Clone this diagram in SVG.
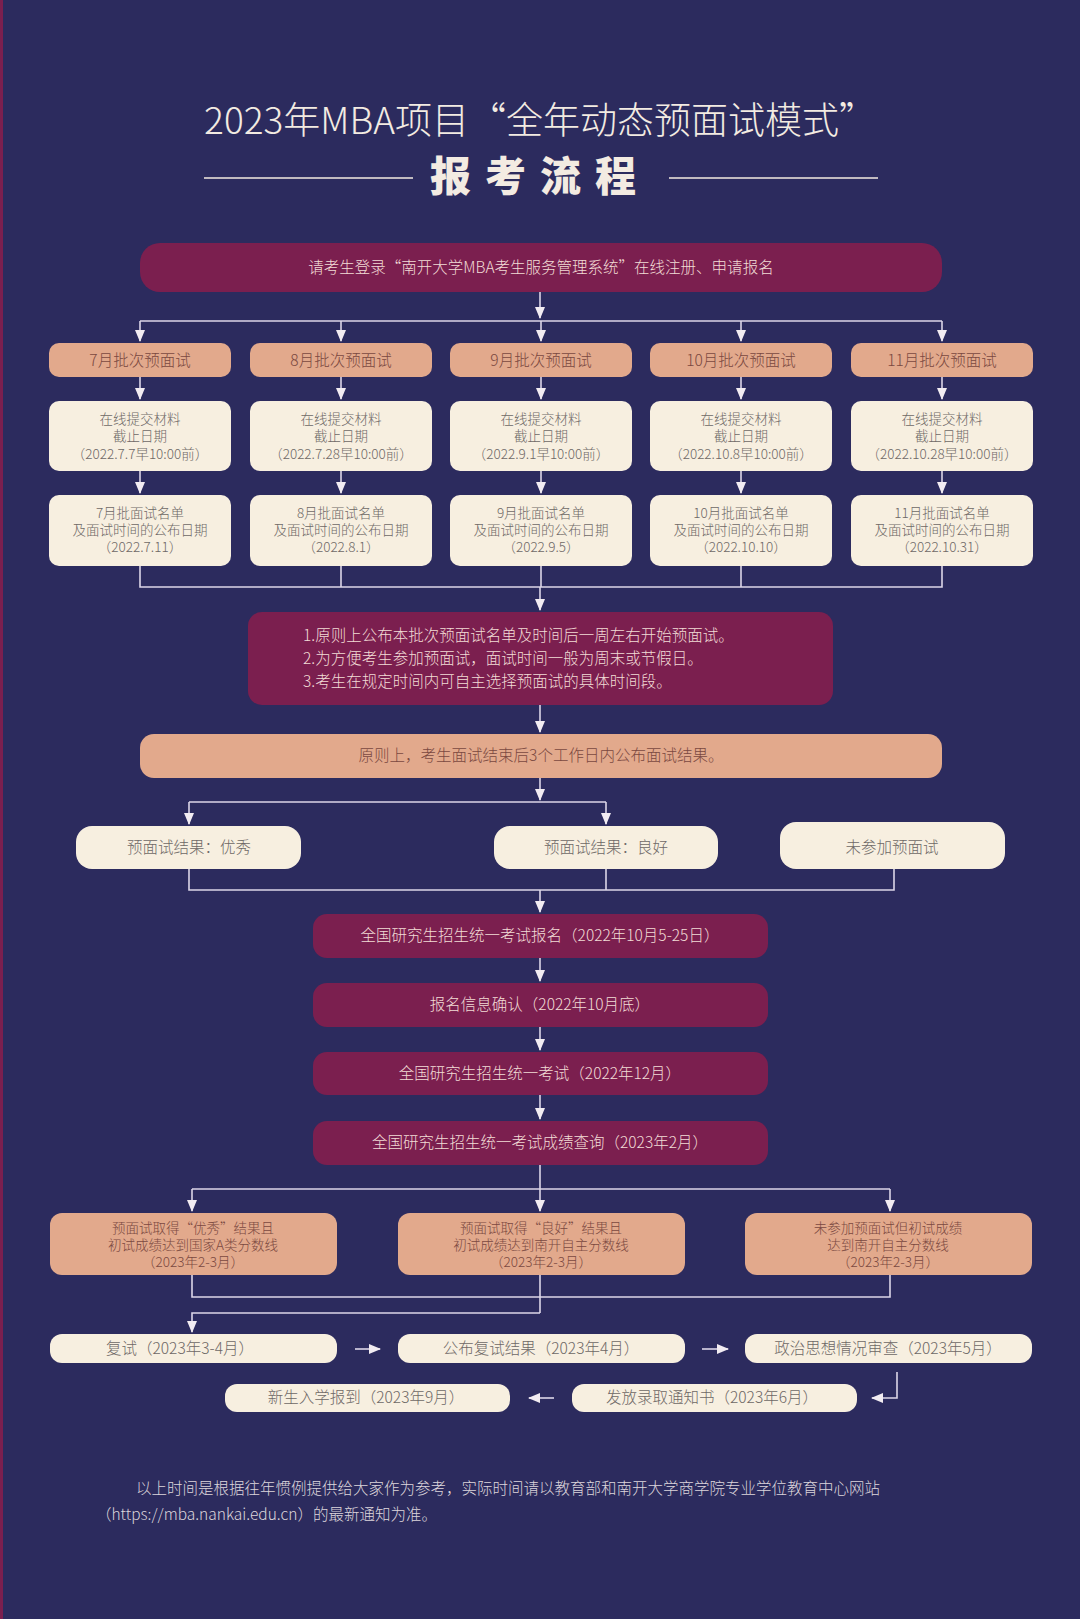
<svg xmlns="http://www.w3.org/2000/svg" width="1080" height="1619" viewBox="0 0 1080 1619">
<defs>
<marker id="ah" markerUnits="userSpaceOnUse" markerWidth="12" markerHeight="10" refX="11" refY="5" orient="auto"><path d="M0,0 L12,5 L0,10 Z" fill="#f2ecf2"/></marker>
<style>
text{font-family:"Noto Sans CJK SC","Noto Sans",sans-serif;text-anchor:middle;font-weight:300}
.c{stroke:#dcd6e8;stroke-width:1.6;fill:none}
.a{marker-end:url(#ah)}
.m rect{fill:#7b1f4f}
.m text{fill:#f2dcd6;font-size:15.5px}
.s rect{fill:#e2a98c}
.s text{fill:#7a4840;font-size:15.5px}
.w rect{fill:#f7efe0}
.w text{fill:#6e6866;font-size:15.5px}
.sm text{font-size:13.5px}
</style>
</defs>
<rect width="1080" height="1619" fill="#2c2b5e"/>
<rect width="3" height="1619" fill="#7b1f4f"/>
<g id="title">
<text x="540" y="134" font-size="37" fill="#f3ebe2">2023年MBA项目“全年动态预面试模式”</text>
<text x="540" y="191" font-size="41" font-weight="900" fill="#f3ebe2" style="font-weight:900" letter-spacing="14">报考流程</text>
<line x1="204" y1="178" x2="413" y2="178" stroke="#f3ebe2" stroke-width="1.5"/>
<line x1="669" y1="178" x2="878" y2="178" stroke="#f3ebe2" stroke-width="1.5"/>
</g>
<g id="connectors">
<path class="c a" d="M540 292 V318"/>
<path class="c" d="M140 321 H942"/>
<path class="c a" d="M140 321 V341"/><path class="c a" d="M341 321 V341"/><path class="c a" d="M541 321 V341"/><path class="c a" d="M741 321 V341"/><path class="c a" d="M942 321 V341"/>
<path class="c a" d="M140 377 V399"/><path class="c a" d="M341 377 V399"/><path class="c a" d="M541 377 V399"/><path class="c a" d="M741 377 V399"/><path class="c a" d="M942 377 V399"/>
<path class="c a" d="M140 471 V493"/><path class="c a" d="M341 471 V493"/><path class="c a" d="M541 471 V493"/><path class="c a" d="M741 471 V493"/><path class="c a" d="M942 471 V493"/>
<path class="c" d="M140 566 V587 H942 V566 M341 566 V587 M541 566 V587 M741 566 V587"/>
<path class="c a" d="M540 587 V610"/>
<path class="c a" d="M540 705 V732"/>
<path class="c a" d="M540 778 V800"/>
<path class="c" d="M189 802 H606"/>
<path class="c a" d="M189 802 V824"/><path class="c a" d="M606 802 V824"/>
<path class="c" d="M189 869 V890 H894 V869 M606 869 V890"/>
<path class="c a" d="M540 890 V912"/>
<path class="c a" d="M540 958 V981"/>
<path class="c a" d="M540 1027 V1050"/>
<path class="c a" d="M540 1095 V1119"/>
<path class="c" d="M192 1189 H890"/>
<path class="c a" d="M540 1165 V1211"/>
<path class="c a" d="M192 1189 V1211"/><path class="c a" d="M890 1189 V1211"/>
<path class="c" d="M192 1275 V1297 H890 V1275 M540 1275 V1313"/>
<path class="c a" d="M540 1313 H192 V1332"/>
<path class="c a" d="M355 1349 H380"/>
<path class="c a" d="M702 1349 H728"/>
<path class="c a" d="M897 1372 V1398 H872"/>
<path class="c a" d="M554 1398 H529"/>
</g>
<g id="n_start" class="m"><rect x="140" y="243" width="802" height="49" rx="20"/><text x="541" y="273">请考生登录“南开大学MBA考生服务管理系统”在线注册、申请报名</text></g>
<g id="b7" class="s"><rect x="49" y="343" width="182" height="34" rx="10"/><text x="140" y="366">7月批次预面试</text></g>
<g id="b8" class="s"><rect x="250" y="343" width="182" height="34" rx="10"/><text x="341" y="366">8月批次预面试</text></g>
<g id="b9" class="s"><rect x="450" y="343" width="182" height="34" rx="10"/><text x="541" y="366">9月批次预面试</text></g>
<g id="b10" class="s"><rect x="650" y="343" width="182" height="34" rx="10"/><text x="741" y="366">10月批次预面试</text></g>
<g id="b11" class="s"><rect x="851" y="343" width="182" height="34" rx="10"/><text x="942" y="366">11月批次预面试</text></g>
<g id="d7" class="w sm"><rect x="49" y="401" width="182" height="70" rx="10"/><text x="140" y="424">在线提交材料</text><text x="140" y="441">截止日期</text><text x="140" y="459">（2022.7.7早10:00前）</text></g>
<g id="d8" class="w sm"><rect x="250" y="401" width="182" height="70" rx="10"/><text x="341" y="424">在线提交材料</text><text x="341" y="441">截止日期</text><text x="341" y="459">（2022.7.28早10:00前）</text></g>
<g id="d9" class="w sm"><rect x="450" y="401" width="182" height="70" rx="10"/><text x="541" y="424">在线提交材料</text><text x="541" y="441">截止日期</text><text x="541" y="459">（2022.9.1早10:00前）</text></g>
<g id="d10" class="w sm"><rect x="650" y="401" width="182" height="70" rx="10"/><text x="741" y="424">在线提交材料</text><text x="741" y="441">截止日期</text><text x="741" y="459">（2022.10.8早10:00前）</text></g>
<g id="d11" class="w sm"><rect x="851" y="401" width="182" height="70" rx="10"/><text x="942" y="424">在线提交材料</text><text x="942" y="441">截止日期</text><text x="942" y="459">（2022.10.28早10:00前）</text></g>
<g id="p7" class="w sm"><rect x="49" y="495" width="182" height="71" rx="10"/><text x="140" y="518">7月批面试名单</text><text x="140" y="535">及面试时间的公布日期</text><text x="140" y="552">（2022.7.11）</text></g>
<g id="p8" class="w sm"><rect x="250" y="495" width="182" height="71" rx="10"/><text x="341" y="518">8月批面试名单</text><text x="341" y="535">及面试时间的公布日期</text><text x="341" y="552">（2022.8.1）</text></g>
<g id="p9" class="w sm"><rect x="450" y="495" width="182" height="71" rx="10"/><text x="541" y="518">9月批面试名单</text><text x="541" y="535">及面试时间的公布日期</text><text x="541" y="552">（2022.9.5）</text></g>
<g id="p10" class="w sm"><rect x="650" y="495" width="182" height="71" rx="10"/><text x="741" y="518">10月批面试名单</text><text x="741" y="535">及面试时间的公布日期</text><text x="741" y="552">（2022.10.10）</text></g>
<g id="p11" class="w sm"><rect x="851" y="495" width="182" height="71" rx="10"/><text x="942" y="518">11月批面试名单</text><text x="942" y="535">及面试时间的公布日期</text><text x="942" y="552">（2022.10.31）</text></g>
<g id="n_rules" class="m"><rect x="248" y="612" width="585" height="93" rx="14"/><text x="303" y="641" style="text-anchor:start">1.原则上公布本批次预面试名单及时间后一周左右开始预面试。</text><text x="303" y="664" style="text-anchor:start">2.为方便考生参加预面试，面试时间一般为周末或节假日。</text><text x="303" y="687" style="text-anchor:start">3.考生在规定时间内可自主选择预面试的具体时间段。</text></g>
<g id="n_result" class="s"><rect x="140" y="734" width="802" height="44" rx="14"/><text x="541" y="761">原则上，考生面试结束后3个工作日内公布面试结果。</text></g>
<g id="r1" class="w"><rect x="76" y="826" width="225" height="43" rx="16"/><text x="189" y="853">预面试结果：优秀</text></g>
<g id="r2" class="w"><rect x="494" y="826" width="224" height="43" rx="16"/><text x="606" y="853">预面试结果：良好</text></g>
<g id="r3" class="w"><rect x="780" y="822" width="225" height="47" rx="16"/><text x="892" y="853">未参加预面试</text></g>
<g id="e1" class="m"><rect x="313" y="914" width="455" height="44" rx="14"/><text x="540" y="941">全国研究生招生统一考试报名（2022年10月5-25日）</text></g>
<g id="e2" class="m"><rect x="313" y="983" width="455" height="44" rx="14"/><text x="540" y="1010">报名信息确认（2022年10月底）</text></g>
<g id="e3" class="m"><rect x="313" y="1052" width="455" height="43" rx="14"/><text x="540" y="1079">全国研究生招生统一考试（2022年12月）</text></g>
<g id="e4" class="m"><rect x="313" y="1121" width="455" height="44" rx="14"/><text x="540" y="1148">全国研究生招生统一考试成绩查询（2023年2月）</text></g>
<g id="q1" class="s sm"><rect x="50" y="1213" width="287" height="62" rx="12"/><text x="193" y="1233">预面试取得“优秀”结果且</text><text x="193" y="1250">初试成绩达到国家A类分数线</text><text x="193" y="1267">（2023年2-3月）</text></g>
<g id="q2" class="s sm"><rect x="398" y="1213" width="287" height="62" rx="12"/><text x="541" y="1233">预面试取得“良好”结果且</text><text x="541" y="1250">初试成绩达到南开自主分数线</text><text x="541" y="1267">（2023年2-3月）</text></g>
<g id="q3" class="s sm"><rect x="745" y="1213" width="287" height="62" rx="12"/><text x="888" y="1233">未参加预面试但初试成绩</text><text x="888" y="1250">达到南开自主分数线</text><text x="888" y="1267">（2023年2-3月）</text></g>
<g id="f1" class="w"><rect x="50" y="1334" width="287" height="29" rx="12"/><text x="180" y="1354">复试（2023年3-4月）</text></g>
<g id="f2" class="w"><rect x="398" y="1334" width="287" height="29" rx="12"/><text x="541" y="1354">公布复试结果（2023年4月）</text></g>
<g id="f3" class="w"><rect x="745" y="1334" width="287" height="29" rx="12"/><text x="888" y="1354">政治思想情况审查（2023年5月）</text></g>
<g id="f4" class="w"><rect x="572" y="1384" width="285" height="28" rx="12"/><text x="712" y="1403">发放录取通知书（2023年6月）</text></g>
<g id="f5" class="w"><rect x="225" y="1384" width="285" height="28" rx="12"/><text x="366" y="1403">新生入学报到（2023年9月）</text></g>
<g id="footer" fill="#ddd6dc" font-size="15.5">
<text x="136" y="1494" style="text-anchor:start">以上时间是根据往年惯例提供给大家作为参考，实际时间请以教育部和南开大学商学院专业学位教育中心网站</text>
<text x="96" y="1520" style="text-anchor:start">（https://mba.nankai.edu.cn）的最新通知为准。</text>
</g>
</svg>
